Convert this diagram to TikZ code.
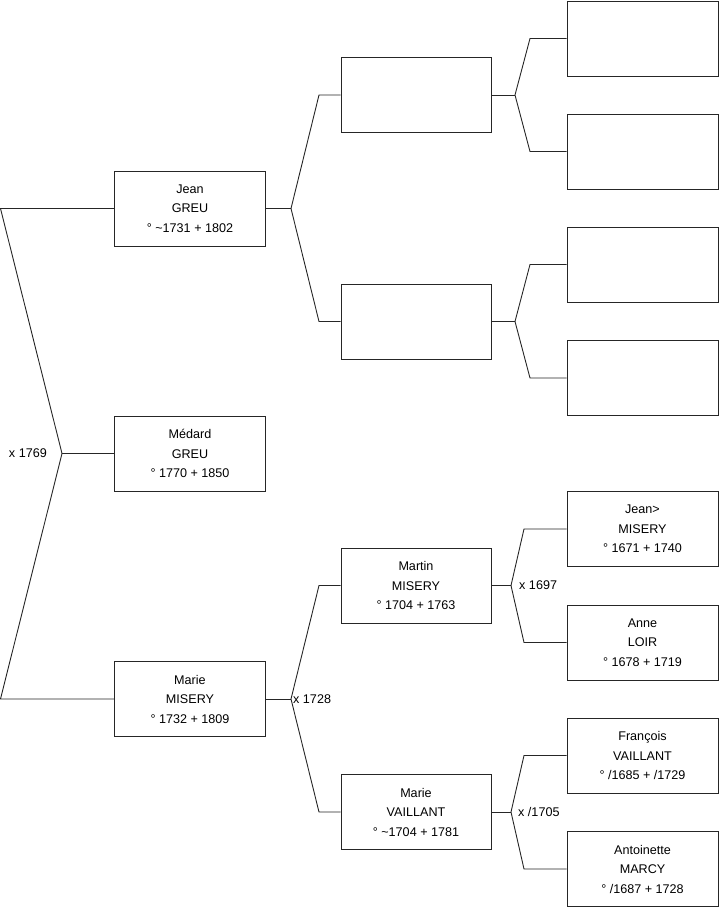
\documentclass[tikz,border=0pt]{standalone}
\usepackage{fontspec}
\setmainfont{Liberation Sans}
\begin{document}
\begin{tikzpicture}[x=1pt,y=-1pt,
  person/.style={draw=black!85, line width=0.9pt, fill=white, minimum width=151pt, minimum height=75pt, inner sep=0pt, align=center, font=\fontsize{12.6}{19.5}\selectfont},
  link/.style={draw=black!85, line width=0.9pt},
  lbl/.style={inner sep=0pt, font=\fontsize{12.6}{14}\selectfont}]
\useasboundingbox (0,0) rectangle (719,908);
% column 1
\node[person] (jean) at (190,208.5) {Jean\\GREU\\° \textasciitilde 1731 + 1802};
\node[person] (medard) at (190,453.5) {Médard\\GREU\\° 1770 + 1850};
\node[person] (marie) at (190,699) {Marie\\MISERY\\° 1732 + 1809};
% column 2
\node[person,minimum width=150pt] (p1) at (416,95) {};
\node[person,minimum width=150pt] (p2) at (416,321.5) {};
\node[person,minimum width=150pt] (martin) at (416,585.5) {Martin\\MISERY\\° 1704 + 1763};
\node[person,minimum width=150pt] (mariev) at (416,812) {Marie\\VAILLANT\\° \textasciitilde 1704 + 1781};
% column 3
\node[person] (q1) at (642.5,38.5) {};
\node[person] (q2) at (642.5,151.5) {};
\node[person] (q3) at (642.5,264.5) {};
\node[person] (q4) at (642.5,378) {};
\node[person] (jeanm) at (642.5,529) {Jean>\\MISERY\\° 1671 + 1740};
\node[person] (anne) at (642.5,642.5) {Anne\\LOIR\\° 1678 + 1719};
\node[person] (francois) at (642.5,755.5) {François\\VAILLANT\\° /1685 + /1729};
\node[person] (antoinette) at (642.5,869) {Antoinette\\MARCY\\° /1687 + 1728};
% junctions
\coordinate (j0) at (62,453.5);
\coordinate (a1) at (0.5,208.5);
\coordinate (a2) at (0.5,699);
\coordinate (j1) at (291,208.5);
\coordinate (b1) at (319,95);
\coordinate (b2) at (319,321.5);
\coordinate (j2) at (291,699);
\coordinate (b3) at (319,585.5);
\coordinate (b4) at (319,812);
\coordinate (k1) at (515,95);
\coordinate (c1) at (530,38.5);
\coordinate (c2) at (530,151.5);
\coordinate (k2) at (515,321.5);
\coordinate (c3) at (530,264.5);
\coordinate (c4) at (530,378);
\coordinate (k3) at (511,585.5);
\coordinate (c5) at (524,529);
\coordinate (c6) at (524,642.5);
\coordinate (k4) at (511,812);
\coordinate (c7) at (524,755.5);
\coordinate (c8) at (524,869);
% connectors
\draw[link] (jean.west) -- (a1) -- (j0) -- (a2) -- (marie.west);
\draw[link] (j0) -- (medard.west);
\draw[link] (jean.east) -- (j1);
\draw[link] (p1.west) -- (b1) -- (j1) -- (b2) -- (p2.west);
\draw[link] (marie.east) -- (j2);
\draw[link] (martin.west) -- (b3) -- (j2) -- (b4) -- (mariev.west);
\draw[link] (p1.east) -- (k1);
\draw[link] (q1.west) -- (c1) -- (k1) -- (c2) -- (q2.west);
\draw[link] (p2.east) -- (k2);
\draw[link] (q3.west) -- (c3) -- (k2) -- (c4) -- (q4.west);
\draw[link] (martin.east) -- (k3);
\draw[link] (jeanm.west) -- (c5) -- (k3) -- (c6) -- (anne.west);
\draw[link] (mariev.east) -- (k4);
\draw[link] (francois.west) -- (c7) -- (k4) -- (c8) -- (antoinette.west);
% marriage labels
\node[lbl, anchor=east] (m0) at (47,453.5) {x 1769};
\node[lbl, anchor=west] (m1) at (293,699) {x 1728};
\node[lbl, anchor=west] (m2) at (519,585.5) {x 1697};
\node[lbl, anchor=west] (m3) at (518,812) {x /1705};
\end{tikzpicture}
\end{document}
